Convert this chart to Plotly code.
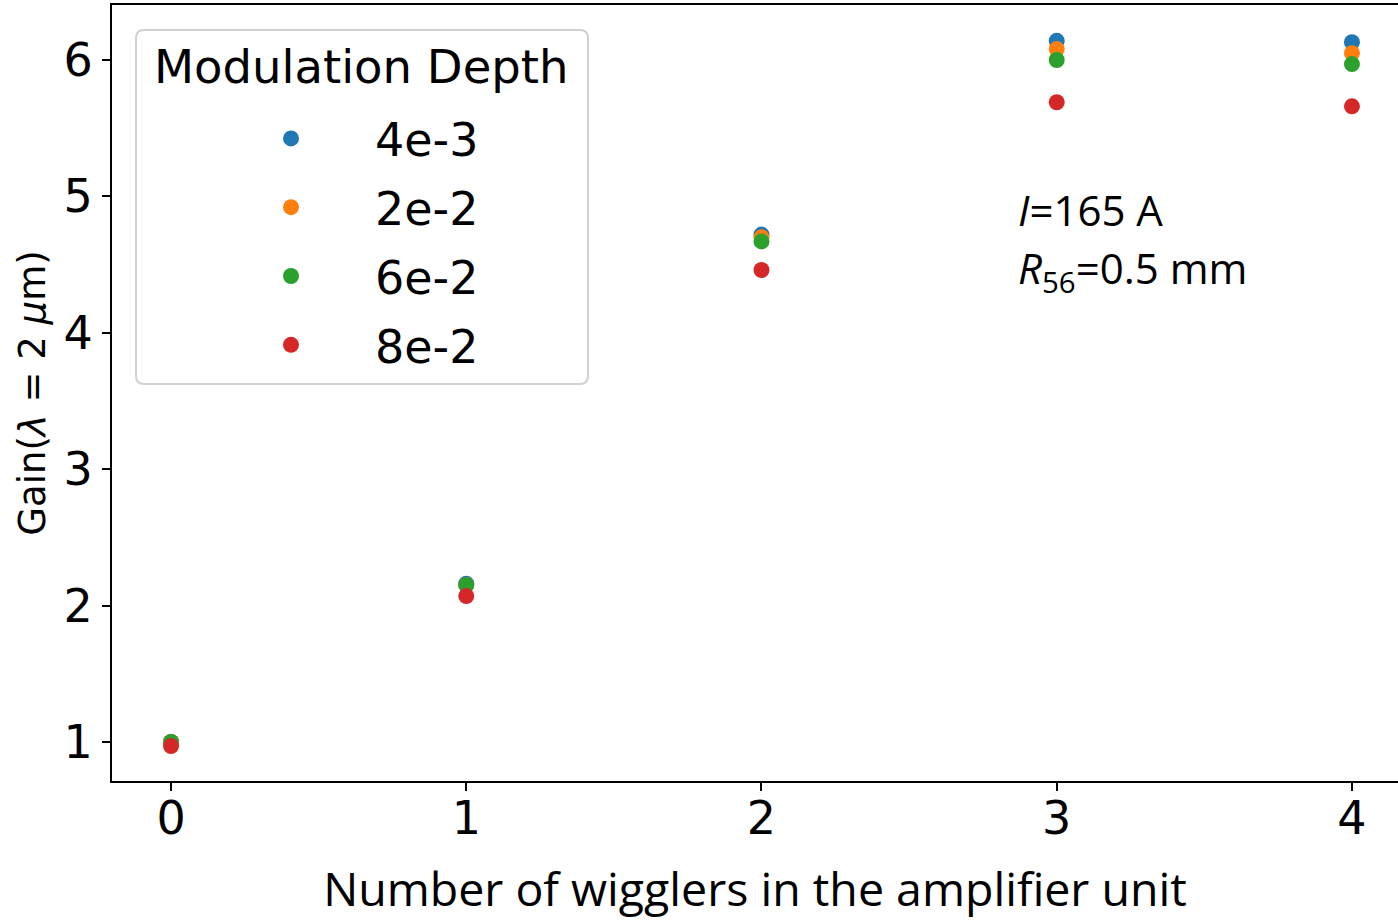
import plotly.graph_objects as go

# ---- data ----
wigglers = [0, 1, 2, 3, 4]
depth_labels = ["4e-3", "2e-2", "6e-2", "8e-2"]
gain_4e3 = [1.00, 2.16, 4.72, 6.14, 6.13]
gain_2e2 = [1.00, 2.15, 4.70, 6.08, 6.05]
gain_6e2 = [1.00, 2.15, 4.67, 6.00, 5.97]
gain_8e2 = [0.97, 2.07, 4.46, 5.69, 5.66]
series = [gain_4e3, gain_2e2, gain_6e2, gain_8e2]
colors = ["#1f77b4", "#ff7f0e", "#2ca02c", "#d62728"]
x_ticks = [0, 1, 2, 3, 4]
y_ticks = [1, 2, 3, 4, 5, 6]

W, H = 1398, 924
ML, MR, MT, MB = 112, 0, 5, 143
PW, PH = W - ML - MR, H - MT - MB


def px(x):
    return (x - ML) / PW


def py(y):
    return (H - MB - y) / PH


fig = go.Figure()
for i, (lab, ys, c) in enumerate(zip(depth_labels, series, colors)):
    fig.add_trace(go.Scatter(
        x=wigglers, y=ys, mode="markers", name=lab,
        legendgroup=lab,
        marker=dict(color=c, size=16, line=dict(width=0)),
    ))

TICKFONT = dict(family="DejaVu Sans", size=46, color="black")

fig.update_layout(
    width=W, height=H,
    margin=dict(l=ML, r=MR, t=MT, b=MB),
    plot_bgcolor="white", paper_bgcolor="white",
    showlegend=True,
    legend=dict(
        x=px(207), y=py(102), xanchor="left", yanchor="top",
        bgcolor="rgba(0,0,0,0)", borderwidth=0,
        font=dict(family="DejaVu Sans", size=46, color="black"),
        itemwidth=158, tracegroupgap=6,
    ),
    xaxis=dict(
        range=[-0.2, 4.156], tickvals=x_ticks, ticktext=[str(t) for t in x_ticks],
        showgrid=False, zeroline=False,
        showline=True, linecolor="black", linewidth=2, mirror=True,
        ticks="outside", ticklen=8, tickwidth=2, tickcolor="black",
        tickfont=TICKFONT, ticklabelstandoff=-12,
        title=dict(text="Number of wigglers in the amplifier unit",
                   font=dict(family="Open Sans", size=46.5, color="black"),
                   standoff=29),
    ),
    yaxis=dict(
        range=[0.714, 6.403], tickvals=y_ticks, ticktext=[str(t) for t in y_ticks],
        showgrid=False, zeroline=False,
        showline=True, linecolor="black", linewidth=2, mirror=False,
        ticks="outside", ticklen=8, tickwidth=2, tickcolor="black",
        tickfont=TICKFONT,
        title=dict(text="Gain(<i>λ</i> = 2 <i>μ</i>m)",
                   font=dict(family="DejaVu Sans", size=37, color="black"),
                   standoff=7),
    ),
)

# legend frame (rounded box)
x0, x1, y0, y1, r = px(136), px(588), py(384), py(30), 8
rx, ry = r / PW, r / PH
path = (f"M {x0+rx},{y0} L {x1-rx},{y0} Q {x1},{y0} {x1},{y0+ry} "
        f"L {x1},{y1-ry} Q {x1},{y1} {x1-rx},{y1} L {x0+rx},{y1} "
        f"Q {x0},{y1} {x0},{y1-ry} L {x0},{y0+ry} Q {x0},{y0} {x0+rx},{y0} Z")
fig.add_shape(type="path", path=path, xref="paper", yref="paper",
              line=dict(color="#d0d0d0", width=2), fillcolor="rgba(255,255,255,0.8)",
              layer="below")

fig.add_annotation(text="Modulation Depth", xref="paper", yref="paper",
                   x=px(361), y=py(67), xanchor="center", yanchor="middle",
                   showarrow=False,
                   font=dict(family="DejaVu Sans", size=46.5, color="black"))

fig.add_annotation(text="<i>I</i>=165 A", xref="paper", yref="paper",
                   x=px(1016), y=py(210), xanchor="left", yanchor="middle",
                   showarrow=False, align="left",
                   font=dict(family="Open Sans", size=42, color="black"))
fig.add_annotation(text="<i>R</i><sub>56</sub>=0.5 mm", xref="paper", yref="paper",
                   x=px(1016), y=py(270), xanchor="left", yanchor="middle",
                   showarrow=False, align="left",
                   font=dict(family="Open Sans", size=42, color="black"))

fig.write_html("out.html")
